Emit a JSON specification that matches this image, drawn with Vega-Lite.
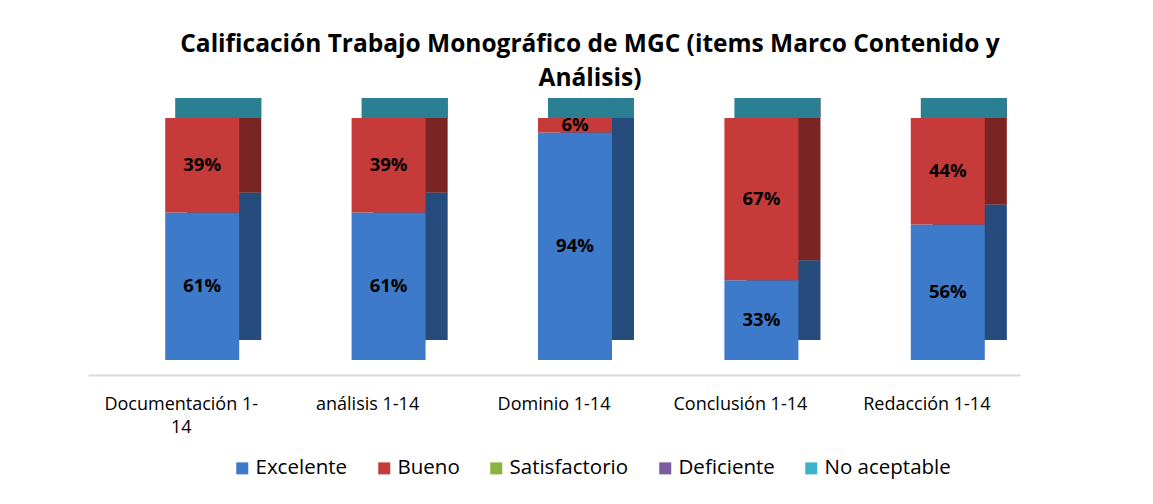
{
  "$schema": "https://vega.github.io/schema/vega-lite/v6.json",
  "autosize": {"type": "none"},
  "padding": {"left": 88, "top": 118, "right": 133, "bottom": 144},
  "width": 932,
  "height": 242,
  "background": "white",
  "config": {"view": {"stroke": null}},
  "title": {
    "text": ["Calificación  Trabajo Monográfico de MGC (items Marco Contenido y", "Análisis)"],
    "font": "Open Sans",
    "fontSize": 24.5,
    "fontWeight": "bold",
    "color": "#000000",
    "anchor": "middle",
    "dx": 36,
    "offset": 7,
    "lineHeight": 34
  },
  "data": {
    "values": [
      {"item": "Documentación 1-14", "grade": "Excelente", "rank": 1, "value": 0.61},
      {"item": "Documentación 1-14", "grade": "Bueno", "rank": 2, "value": 0.39},
      {"item": "análisis 1-14", "grade": "Excelente", "rank": 1, "value": 0.61},
      {"item": "análisis 1-14", "grade": "Bueno", "rank": 2, "value": 0.39},
      {"item": "Dominio 1-14", "grade": "Excelente", "rank": 1, "value": 0.94},
      {"item": "Dominio 1-14", "grade": "Bueno", "rank": 2, "value": 0.06},
      {"item": "Conclusión 1-14", "grade": "Excelente", "rank": 1, "value": 0.33},
      {"item": "Conclusión 1-14", "grade": "Bueno", "rank": 2, "value": 0.67},
      {"item": "Redacción 1-14", "grade": "Excelente", "rank": 1, "value": 0.56},
      {"item": "Redacción 1-14", "grade": "Bueno", "rank": 2, "value": 0.44}
    ]
  },
  "encoding": {
    "x": {
      "field": "item",
      "type": "nominal",
      "sort": null,
      "scale": {"paddingInner": 0, "paddingOuter": 0},
      "axis": {
        "title": null,
        "offset": 15,
        "labelAngle": 0,
        "labelFont": "Open Sans",
        "labelFontSize": 18,
        "labelColor": "#000000",
        "labelPadding": 20,
        "labelLineHeight": 23,
        "labelBaseline": "top",
        "ticks": false,
        "grid": false,
        "domainColor": "#D9D9D9",
        "domainWidth": 2,
        "labelExpr": "datum.value == 'Documentación 1-14' ? ['Documentación 1-', '14'] : datum.value"
      }
    }
  },
  "layer": [
    {
      "mark": {"type": "bar", "width": 74, "xOffset": 43, "yOffset": -20, "y2Offset": -20},
      "encoding": {
        "y": {"field": "value", "type": "quantitative", "stack": "zero", "scale": {"domain": [0, 1]}, "axis": null},
        "order": {"field": "rank", "type": "quantitative"},
        "color": {"field": "grade", "type": "nominal",
          "scale": {"domain": ["Excelente", "Bueno", "Satisfactorio", "Deficiente", "No aceptable"],
                    "range": ["#3D7BCA", "#C63B3A", "#8CB33F", "#7A5CA0", "#3FB0C9"]},
          "legend": {
            "title": null,
            "orient": "none",
            "direction": "horizontal",
            "legendX": 144,
            "legendY": 340,
            "symbolType": "square",
            "symbolSize": 144,
            "symbolStrokeWidth": 0,
            "labelFont": "Open Sans",
            "labelFontSize": 20.5,
            "labelColor": "#000000",
            "labelOffset": 3,
            "columnPadding": 26
          }}
      }
    },
    {
      "mark": {"type": "bar", "width": 74, "xOffset": 43, "yOffset": -20, "y2Offset": -20, "color": "#000000", "opacity": 0.38},
      "encoding": {
        "y": {"field": "value", "type": "quantitative", "stack": "zero"},
        "order": {"field": "rank", "type": "quantitative"},
        "detail": {"field": "grade"}
      }
    },
    {
      "mark": {"type": "tick", "orient": "horizontal", "thickness": 20, "size": 86, "xOffset": 37, "yOffset": -10, "color": "#2A7F93", "opacity": 1},
      "encoding": {
        "y": {"aggregate": "sum", "field": "value", "type": "quantitative"}
      }
    },
    {
      "mark": {"type": "bar", "width": 74, "xOffset": 21},
      "encoding": {
        "y": {"field": "value", "type": "quantitative", "stack": "zero"},
        "order": {"field": "rank", "type": "quantitative"},
        "color": {"field": "grade", "type": "nominal"}
      }
    },
    {
      "mark": {"type": "text", "xOffset": 21, "font": "Open Sans", "fontSize": 18.5, "fontWeight": "bold", "color": "#000000", "baseline": "middle"},
      "encoding": {
        "y": {"field": "value", "type": "quantitative", "stack": "zero", "bandPosition": 0.5},
        "order": {"field": "rank", "type": "quantitative"},
        "detail": {"field": "grade"},
        "text": {"field": "value", "type": "quantitative", "format": ".0%"}
      }
    }
  ]
}
